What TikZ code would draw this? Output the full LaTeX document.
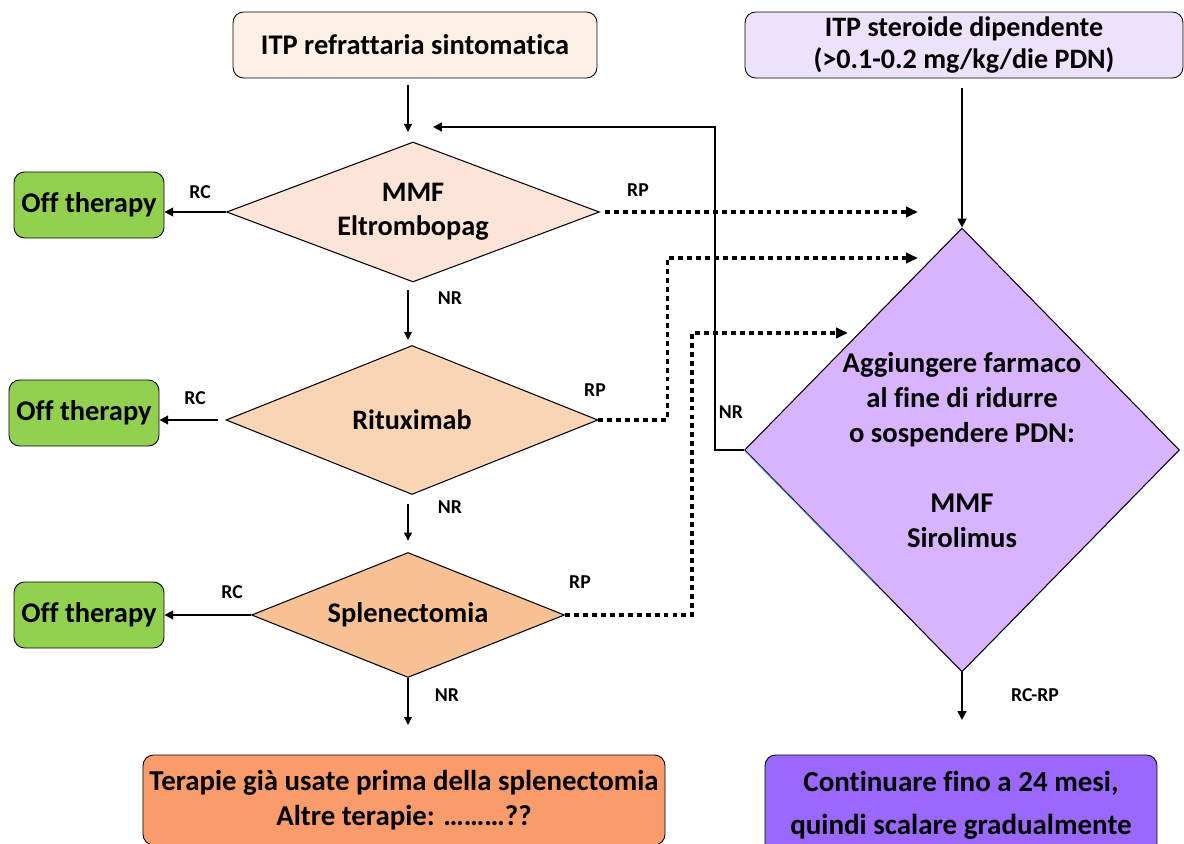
\documentclass[tikz,border=0pt]{standalone}
\usepackage{fontspec}
\setmainfont{Carlito}[Ligatures=NoCommon]
\usetikzlibrary{shapes.geometric,arrows.meta,calc}
\definecolor{startC}{HTML}{FDF0E4}
\definecolor{steroidC}{HTML}{EDE2FC}
\definecolor{mmfC}{HTML}{FCE4D6}
\definecolor{rituxC}{HTML}{F9D5B5}
\definecolor{splenC}{HTML}{F8C194}
\definecolor{otherC}{HTML}{F99B6B}
\definecolor{offC}{HTML}{92D050}
\definecolor{addonC}{HTML}{D9B4FE}
\definecolor{keepC}{HTML}{9A68FC}
\newcommand{\fs}[2]{\fontsize{#1}{#2}\selectfont\bfseries}
\begin{document}
\begin{tikzpicture}[x=.02cm,y=-.02cm,font=\bfseries,
  box/.style={draw,rounded corners=6pt,align=center,inner sep=0pt,line width=.5pt},
  offbox/.style={box,fill=offC,minimum width=3cm,minimum height=1.32cm,font=\fs{16.2}{19}},
  choice/.style={diamond,draw,inner sep=0pt,align=center,line width=.6pt},
  lbl/.style={font=\fs{11.2}{13},inner sep=0pt},
  thin/.style={-{Triangle[length=4.5pt,width=4.5pt]},line width=.6pt},
  thick/.style={-{Triangle[length=5pt,width=5pt]},line width=1pt},
  dots/.style={-{Triangle[length=6.8pt,width=5.8pt]},line width=2.1pt,dash pattern=on 2.8pt off 2.3pt}]
\useasboundingbox(0,0)rectangle(1184,844);
\clip(0,0)rectangle(1184,844);
% left column
\node[box,fill=startC,minimum width=7.28cm,minimum height=1.32cm,font=\fs{16.2}{19}](start)at(415,45){ITP refrattaria sintomatica};
\node[choice,fill=mmfC,aspect=2.66,minimum width=7.46cm,minimum height=2.8cm,font=\fs{16.1}{19.4}](mmf)at(413,212){MMF\\Eltrombopag};
\node[choice,fill=rituxC,aspect=2.5,minimum width=7.44cm,minimum height=2.98cm,font=\fs{16}{19}](ritux)at(412,420){Rituximab};
\node[choice,fill=splenC,aspect=2.5,minimum width=6.26cm,minimum height=2.5cm,font=\fs{16.2}{19}](splen)at(408,615){Splenectomia};
\node[box,fill=otherC,minimum width=10.44cm,minimum height=1.8cm,font=\fs{16.4}{20}](other)at(404,800){Terapie già usate prima della splenectomia\\Altre terapie: ………??};
\node[offbox](off1)at(89,205){Off therapy};
\node[offbox](off2)at(84,413){Off therapy};
\node[offbox](off3)at(89,615){Off therapy};
% right column
\node[box,fill=steroidC,minimum width=8.76cm,minimum height=1.32cm,font=\fs{16}{18.2}](steroid)at(964,45){ITP steroide dipendente\\(>0.1-0.2 mg/kg/die PDN)};
\node[choice,fill=addonC,aspect=1,minimum width=8.7cm,minimum height=8.88cm,font=\fs{16.3}{20}](addon)at(962,450){Aggiungere farmaco\\al fine di ridurre\\o sospendere PDN:\\[20pt]MMF\\Sirolimus};
\node[box,fill=keepC,minimum width=7.84cm,minimum height=2cm,font=\fs{16.5}{24.5}](keep)at(961,805){Continuare fino a 24 mesi,\\quindi scalare gradualmente};
\draw[color={rgb,255:red,74;green,123;blue,200},line width=.5pt](addon.west)--($(addon.west)!.61!(addon.south)$);
% free ends
\coordinate(back)at(433,127);
\coordinate(in1)at(918,212);
\coordinate(in2)at(918,258);
\coordinate(in3)at(848,333);
\coordinate(rest)at(408,725);
\coordinate(done)at(962,720);
% connectors
\draw[thin,shorten <=4pt,shorten >=5.5pt](start.south-|rest)--(mmf.north-|rest);
\draw[thin,shorten <=4.5pt,shorten >=3pt](mmf.south-|rest)--(ritux.north-|rest);
\draw[thin,shorten <=5pt,shorten >=6.5pt](ritux.south-|rest)--(splen.north-|rest);
\draw[thin](splen.south)--(rest);
\draw[thick](mmf.west)--(mmf.west-|off1.east);
\draw[thick,shorten <=4pt](ritux.west)--(ritux.west-|off2.east);
\draw[thick](splen.west)--(splen.west-|off3.east);
\draw[dots,shorten <=3pt](mmf.east)--(in1);
\draw[dots](ritux.east)--++(69,0)|-(in2);
\draw[dots](splen.east)--++(127,0)|-(in3);
\draw[thick](addon.west)--++(-29,0)|-(back);
\draw[thick,shorten <=5.5pt](steroid.south-|addon.north)--(addon.north);
\draw[thick](addon.south)--(done);
% labels
\node[lbl](rc1)at(200,192){RC};\node[lbl](rc2)at(195,398){RC};\node[lbl](rc3)at(232,592){RC};
\node[lbl](rp1)at(638,190){RP};\node[lbl](rp2)at(595,390){RP};\node[lbl](rp3)at(580,582){RP};
\node[lbl](nr1)at(450,298){NR};\node[lbl](nr2)at(450,507){NR};\node[lbl](nr3)at(447,695){NR};
\node[lbl](nr4)at(731,412){NR};\node[lbl](rcrp)at(1035,695){RC-RP};
\end{tikzpicture}
\end{document}
